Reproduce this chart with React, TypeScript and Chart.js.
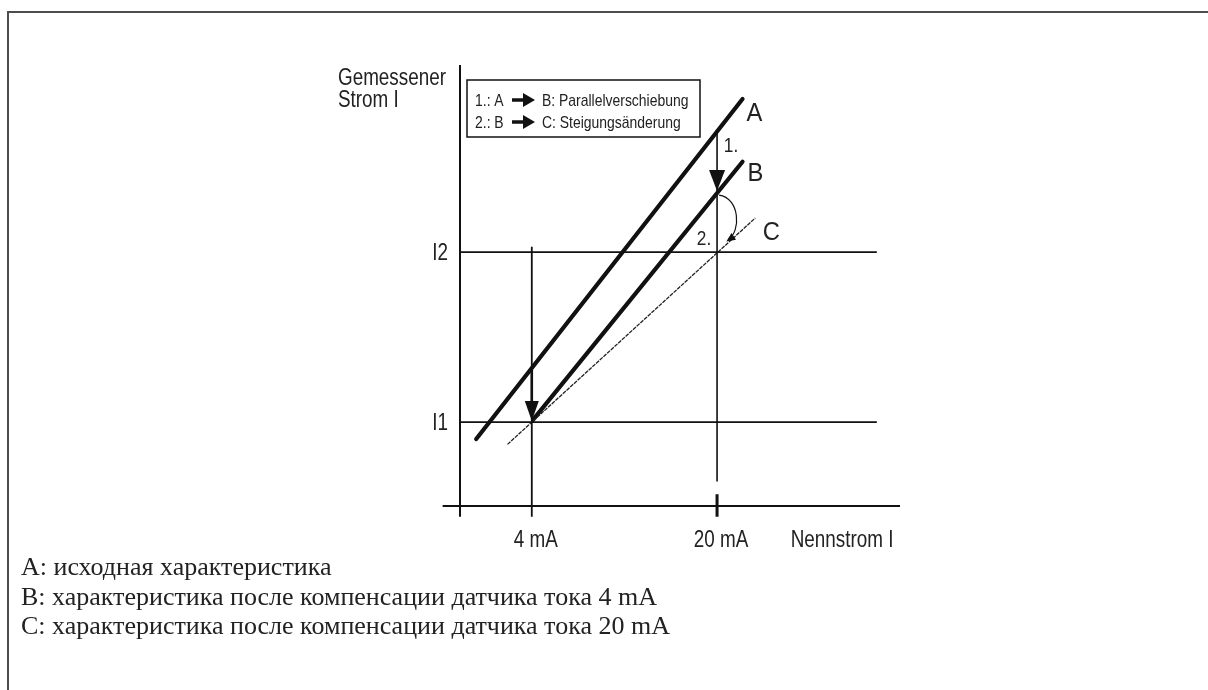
import React, { useEffect, useRef } from 'react';
import { Chart, registerables } from 'chart.js';

Chart.register(...registerables);

// ---- data (chart units: x = nominal current, y = measured current) ----
const seriesNames = ['A', 'B', 'C'];
const curveAX = [-0.8, 22.2];
const curveAY = [2.4, 34.4];
const curveBX = [4.1, 22.2];
const curveBY = [4.2, 28.5];
const curveCX = [1.9, 23.3];
const curveCY = [1.9, 23.2];
const nominalCurrents = [4, 20];
const measuredLevels = [4, 20];
const xTickLabels = ['4 mA', '20 mA'];
const yTickLabels = ['I1', 'I2'];
const xAxisTitle = 'Nennstrom I';
const yAxisTitle = ['Gemessener', 'Strom I'];
const legendFrom = ['1.: A', '2.: B'];
const legendTo = ['B: Parallelverschiebung', 'C: Steigungsänderung'];
const stepLabels = ['1.', '2.'];
const captionLines = [
  'A: исходная характеристика',
  'B: характеристика после компенсации датчика тока 4 mA',
  'C: характеристика после компенсации датчика тока 20 mA',
];

const xRange = [-2.2, 35.8];
const yRange = [-3.9, 37.6];
const xAxisExtent = [-3.7, 35.8];
const yAxisExtent = [-4.9, 37.6];
const levelLineEnd = 33.8;
const ref4Extent = [20.5, -4.9];
const ref20Bottom = -1.6;
const ref20Tick = [-2.8, -4.9];
const stepTarget = 20.8;

const interp = (xs: number[], ys: number[], x: number) =>
  ys[0] + ((x - xs[0]) * (ys[1] - ys[0])) / (xs[1] - xs[0]);

const INK = '#111';
const TEXT = '#222';
const SANS = "'Liberation Sans', Arial, sans-serif";

const seg = (pts: { x: number; y: number }[], width: number, extra: any = {}) => ({
  data: pts,
  borderColor: INK,
  borderWidth: width,
  pointRadius: 0,
  showLine: true,
  tension: 0,
  clip: false as any,
  borderCapStyle: 'butt',
  ...extra,
});

const annotPlugin = {
  id: 'annot',
  afterDatasetsDraw(chart: any) {
    const ctx: CanvasRenderingContext2D = chart.ctx;
    const xs = chart.scales.x;
    const ys = chart.scales.y;
    const px = (v: number) => xs.getPixelForValue(v);
    const py = (v: number) => ys.getPixelForValue(v);
    const area = chart.chartArea;

    const text = (s: string, x: number, y: number, size: number, align: CanvasTextAlign, sx = 0.82) => {
      ctx.save();
      ctx.font = `${size}px ${SANS}`;
      ctx.fillStyle = TEXT;
      ctx.textBaseline = 'alphabetic';
      ctx.textAlign = align;
      ctx.translate(x, y);
      ctx.scale(sx, 1);
      ctx.fillText(s, 0, 0);
      ctx.restore();
    };
    const tri = (tx: number, ty: number, fx: number, fy: number, len: number, half: number) => {
      const dx = tx - fx;
      const dy = ty - fy;
      const d = Math.hypot(dx, dy) || 1;
      const ux = dx / d;
      const uy = dy / d;
      const bx = tx - ux * len;
      const by = ty - uy * len;
      ctx.beginPath();
      ctx.moveTo(tx, ty);
      ctx.lineTo(bx - uy * half, by + ux * half);
      ctx.lineTo(bx + uy * half, by - ux * half);
      ctx.closePath();
      ctx.fillStyle = INK;
      ctx.fill();
    };

    ctx.save();
    // step 1 arrowheads
    const x4 = px(nominalCurrents[0]);
    const yI1 = py(measuredLevels[0]);
    tri(x4, yI1 - 1, x4, yI1 - 30, 20, 7);
    const x20 = px(nominalCurrents[1]);
    const yA20 = py(interp(curveAX, curveAY, nominalCurrents[1]));
    const yB20 = py(interp(curveBX, curveBY, nominalCurrents[1]));
    tri(x20, yB20 - 2, x20, yB20 - 30, 21, 8);

    // step 2 curved arrow
    const cx2 = px(stepTarget);
    const cy2 = py(interp(curveCX, curveCY, stepTarget)) - 3;
    ctx.beginPath();
    ctx.moveTo(x20 + 2, yB20 + 2);
    ctx.bezierCurveTo(x20 + 23, yB20 + 5, x20 + 24, cy2 - 10, cx2 + 2, cy2 - 2);
    ctx.strokeStyle = INK;
    ctx.lineWidth = 1.2;
    ctx.stroke();
    tri(cx2, cy2, x20 + 24, cy2 - 10, 9, 4);

    // step labels
    text(stepLabels[0], x20 + 14, yA20 + 20, 21, 'center');
    text(stepLabels[1], x20 - 13, py(measuredLevels[1]) - 7, 21, 'center');

    // series labels at curve ends
    const ends = [
      [curveAX[1], curveAY[1], 12, 22],
      [curveBX[1], curveBY[1], 13, 19],
      [curveCX[1], curveCY[1], 16, 22],
    ];
    ends.forEach((e, i) => text(seriesNames[i], px(e[0]) + e[2], py(e[1]) + e[3], 25, 'center', 0.95));

    // tick labels
    nominalCurrents.forEach((v, i) => text(xTickLabels[i], px(v) + 4, area.bottom + 41, 23, 'center'));
    text(xAxisTitle, px(nominalCurrents[1]) + 125, area.bottom + 41, 23, 'center');
    measuredLevels.forEach((v, i) => text(yTickLabels[i], px(xRange[0]) - 12, py(v) + 8, 23, 'right'));
    yAxisTitle.forEach((s, i) => text(s, px(xRange[0]) - 122, area.top + 20 + i * 22, 23, 'left'));

    // legend box
    const lx = px(xRange[0]) + 7;
    const ly = area.top + 15;
    ctx.strokeStyle = INK;
    ctx.lineWidth = 1.5;
    ctx.strokeRect(lx, ly, 233, 57);
    legendFrom.forEach((s, i) => {
      const base = ly + 26 + i * 22;
      text(s, lx + 8, base, 17, 'left');
      ctx.beginPath();
      ctx.moveTo(lx + 45, base - 6);
      ctx.lineTo(lx + 58, base - 6);
      ctx.lineWidth = 3.5;
      ctx.stroke();
      tri(lx + 68, base - 6, lx + 50, base - 6, 12, 7);
      text(legendTo[i], lx + 75, base, 17, 'left');
    });
    ctx.restore();
  },
};

export default function App() {
  const ref = useRef<HTMLCanvasElement | null>(null);

  useEffect(() => {
    if (!ref.current) return;
    const A = (x: number) => interp(curveAX, curveAY, x);
    const chart = new Chart(ref.current, {
      type: 'scatter',
      data: {
        datasets: [
          seg([{ x: xRange[0], y: yAxisExtent[0] }, { x: xRange[0], y: yAxisExtent[1] }], 2),
          seg([{ x: xAxisExtent[0], y: yRange[0] }, { x: xAxisExtent[1], y: yRange[0] }], 2),
          ...measuredLevels.map((v) => seg([{ x: xRange[0], y: v }, { x: levelLineEnd, y: v }], 1.8)),
          seg([{ x: nominalCurrents[0], y: ref4Extent[0] }, { x: nominalCurrents[0], y: ref4Extent[1] }], 1.8),
          seg([{ x: nominalCurrents[0], y: A(nominalCurrents[0]) }, { x: nominalCurrents[0], y: measuredLevels[0] + 1 }], 2.6),
          seg([{ x: nominalCurrents[1], y: A(nominalCurrents[1]) }, { x: nominalCurrents[1], y: ref20Bottom }], 1.6),
          seg([{ x: nominalCurrents[1], y: ref20Tick[0] }, { x: nominalCurrents[1], y: ref20Tick[1] }], 3),
          seg(curveCX.map((x, i) => ({ x, y: curveCY[i] })), 1.3, { borderDash: [4, 1], borderColor: '#222' }),
          seg(curveAX.map((x, i) => ({ x, y: curveAY[i] })), 4.2, { borderCapStyle: 'round' }),
          seg(curveBX.map((x, i) => ({ x, y: curveBY[i] })), 4.2, { borderCapStyle: 'round' }),
        ] as any,
      },
      options: {
        responsive: false,
        animation: false,
        events: [],
        layout: { padding: { left: 460, right: 308, top: 65, bottom: 184 } },
        plugins: { legend: { display: false }, tooltip: { enabled: false } },
        scales: {
          x: { type: 'linear', min: xRange[0], max: xRange[1], display: false },
          y: { type: 'linear', min: yRange[0], max: yRange[1], display: false },
        },
      },
      plugins: [annotPlugin],
    });
    return () => chart.destroy();
  }, []);

  return (
    <div style={{ position: 'absolute', left: 0, top: 0, width: 1208, height: 690, overflow: 'hidden', background: '#fff' }}>
      <div
        style={{
          position: 'absolute',
          left: 7,
          top: 11,
          width: 1201,
          height: 679,
          boxSizing: 'border-box',
          borderTop: '2px solid #4d4d4d',
          borderLeft: '2px solid #4d4d4d',
        }}
      />
      <canvas ref={ref} width={1208} height={690} style={{ position: 'absolute', left: 0, top: 0, width: 1208, height: 690 }} />
      {captionLines.map((s, i) => (
        <div
          key={i}
          style={{
            position: 'absolute',
            left: 21,
            top: 554 + i * 29.5,
            fontFamily: "'Liberation Serif', 'Times New Roman', serif",
            fontSize: 26,
            lineHeight: '26px',
            color: TEXT,
            whiteSpace: 'nowrap',
          }}
        >
          {s}
        </div>
      ))}
    </div>
  );
}
